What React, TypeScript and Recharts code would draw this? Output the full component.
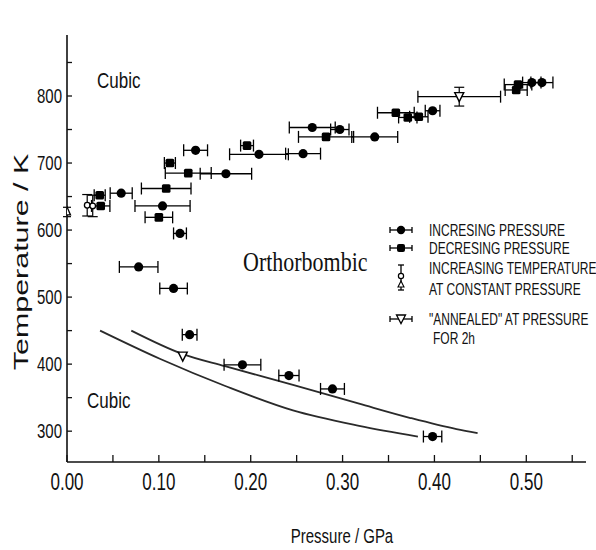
import React from 'react';
import { ComposedChart, XAxis, YAxis, Scatter, Line, ErrorBar, Customized } from 'recharts';

// Increasing pressure (filled circles), p in GPa, t in K, xe = pressure error
const increasingPressure = [
  { p: 0.059, t: 655, xe: 0.012 },
  { p: 0.104, t: 636, xe: 0.03 },
  { p: 0.123, t: 595, xe: 0.007 },
  { p: 0.078, t: 545, xe: 0.021 },
  { p: 0.116, t: 513, xe: 0.015 },
  { p: 0.1335, t: 444, xe: 0.008 },
  { p: 0.191, t: 399, xe: 0.02 },
  { p: 0.2416, t: 383, xe: 0.011 },
  { p: 0.289, t: 363, xe: 0.013 },
  { p: 0.398, t: 292, xe: 0.01 },
  { p: 0.14, t: 719, xe: 0.013 },
  { p: 0.173, t: 684, xe: 0.028 },
  { p: 0.209, t: 713, xe: 0.032 },
  { p: 0.257, t: 714, xe: 0.019 },
  { p: 0.267, t: 753, xe: 0.025 },
  { p: 0.297, t: 750, xe: 0.01 },
  { p: 0.335, t: 739, xe: 0.025 },
  { p: 0.398, t: 778, xe: 0.008 },
  { p: 0.506, t: 820, xe: 0.01 },
  { p: 0.517, t: 820, xe: 0.012 },
];

// Decreasing pressure (filled squares)
const decreasingPressure = [
  { p: 0.0356, t: 652, xe: 0.006 },
  { p: 0.0367, t: 636, xe: 0.01 },
  { p: 0.1, t: 619, xe: 0.015 },
  { p: 0.108, t: 662, xe: 0.027 },
  { p: 0.112, t: 700, xe: 0.006 },
  { p: 0.132, t: 685, xe: 0.025 },
  { p: 0.196, t: 726, xe: 0.007 },
  { p: 0.282, t: 739, xe: 0.03 },
  { p: 0.358, t: 775, xe: 0.02 },
  { p: 0.371, t: 768, xe: 0.01 },
  { p: 0.383, t: 769, xe: 0.01 },
  { p: 0.491, t: 817, xe: 0.015 },
  { p: 0.489, t: 809, xe: 0.012 },
];

// Increasing temperature at constant pressure (open circles, vertical bars)
const increasingTemperature = [
  { p: 0.022, t: 637, ye: 16 },
  { p: 0.028, t: 636, ye: 16 },
];
const axisTriangle = [{ p: 0.0, t: 627, ye: 7 }];

// "Annealed" at pressure for 2h (open down-triangles)
const annealed = [{ p: 0.126, t: 412 }];
const annealedHigh = [{ p: 0.427, t: 799, xe: 0.045, ye: 14 }];

// Phase boundary curves
const upperBoundary = [
  { p: 0.07, t: 450 },
  { p: 0.126, t: 415 },
  { p: 0.172, t: 397 },
  { p: 0.246, t: 369 },
  { p: 0.318, t: 341 },
  { p: 0.373, t: 320 },
  { p: 0.424, t: 303 },
  { p: 0.447, t: 297 },
];
const lowerBoundary = [
  { p: 0.036, t: 450 },
  { p: 0.101, t: 408 },
  { p: 0.173, t: 367 },
  { p: 0.246, t: 331 },
  { p: 0.318, t: 308 },
  { p: 0.382, t: 292 },
];

const xTicks = [0, 0.05, 0.1, 0.15, 0.2, 0.25, 0.3, 0.35, 0.4, 0.45, 0.5, 0.55];
const xLabelTicks = [0, 0.1, 0.2, 0.3, 0.4, 0.5];
const yTicks = [300, 350, 400, 450, 500, 550, 600, 650, 700, 750, 800, 850];
const yLabelTicks = [300, 400, 500, 600, 700, 800];

const legendItems = [
  'INCRESING PRESSURE',
  'DECRESING PRESSURE',
  'INCREASING TEMPERATURE',
  'AT CONSTANT PRESSURE',
  '"ANNEALED" AT PRESSURE',
  'FOR 2h',
];

const SANS = '"Liberation Sans", Arial, Helvetica, sans-serif';
const SERIF = '"Liberation Serif", "Times New Roman", serif';
const INK = '#111';

const XTick = (props: any) => {
  const { x, y, payload } = props;
  const v = payload.value;
  const labeled = xLabelTicks.some((l) => Math.abs(l - v) < 1e-9);
  return (
    <g>
      <line x1={x} y1={y} x2={x} y2={y - 7} stroke={INK} strokeWidth={1.3} />
      {labeled && (
        <text
          transform={`translate(${x},${y + 19}) scale(1,1.4)`}
          textAnchor="middle"
          dominantBaseline="central"
          fontSize={17}
          fontFamily={SANS}
          fill={INK}
        >
          {v.toFixed(2)}
        </text>
      )}
    </g>
  );
};

const YTick = (props: any) => {
  const { x, y, payload } = props;
  const v = payload.value;
  const labeled = yLabelTicks.includes(v);
  return (
    <g>
      <line x1={x} y1={y} x2={x + 5} y2={y} stroke={INK} strokeWidth={1.3} />
      {labeled && (
        <text
          transform={`translate(${x - 5},${y}) scale(1,1.38)`}
          textAnchor="end"
          dominantBaseline="central"
          fontSize={15}
          fontFamily={SANS}
          fill={INK}
        >
          {v}
        </text>
      )}
    </g>
  );
};

const FilledDot = (props: any) => {
  const { cx, cy } = props;
  if (cx == null || cy == null) return null;
  return <circle cx={cx} cy={cy} r={4.6} fill="#000" />;
};
const FilledSquare = (props: any) => {
  const { cx, cy } = props;
  if (cx == null || cy == null) return null;
  return <rect x={cx - 4.3} y={cy - 4.3} width={8.6} height={8.6} rx={1.5} fill="#000" />;
};
const OpenDot = (props: any) => {
  const { cx, cy } = props;
  if (cx == null || cy == null) return null;
  return <circle cx={cx} cy={cy} r={2.8} fill="#fff" stroke="#000" strokeWidth={1.3} />;
};
const OpenTriUp = (props: any) => {
  const { cx, cy } = props;
  if (cx == null || cy == null) return null;
  return (
    <polygon
      points={`${cx},${cy - 5} ${cx - 3.5},${cy + 3} ${cx + 3.5},${cy + 3}`}
      fill="#fff"
      stroke="#000"
      strokeWidth={1.3}
    />
  );
};
const OpenTriDown = (props: any) => {
  const { cx, cy } = props;
  if (cx == null || cy == null) return null;
  return (
    <polygon
      points={`${cx - 4.5},${cy - 4} ${cx + 4.5},${cy - 4} ${cx},${cy + 5}`}
      fill="#fff"
      stroke="#000"
      strokeWidth={1.4}
    />
  );
};

const Annotations = () => {
  const lx = 429;
  const rows = [230, 248, 268, 289, 319, 338];
  const sx = 401;
  return (
    <g>
      {/* Region labels */}
      <text transform="translate(97,80) scale(1,1.3)" dominantBaseline="central" fontSize={17} fontFamily={SANS} fill={INK}>
        Cubic
      </text>
      <text transform="translate(87,400) scale(1,1.3)" dominantBaseline="central" fontSize={17} fontFamily={SANS} fill={INK}>
        Cubic
      </text>
      <text transform="translate(243,262) scale(1,1.2)" dominantBaseline="central" fontSize={22} fontFamily={SERIF} fill={INK}>
        Orthorbombic
      </text>
      {/* Axis titles */}
      <text
        transform="translate(21,262) rotate(-90) scale(1.45,1)"
        textAnchor="middle"
        dominantBaseline="central"
        fontSize={21}
        fontFamily={SANS}
        fill={INK}
      >
        Temperature / K
      </text>
      <text transform="translate(342,536) scale(1,1.3)" textAnchor="middle" dominantBaseline="central" fontSize={15} fontFamily={SANS} fill={INK}>
        Pressure / GPa
      </text>
      {/* Legend symbols */}
      <g stroke="#000" strokeWidth={1.3}>
        <line x1={390} y1={rows[0]} x2={412} y2={rows[0]} />
        <line x1={390} y1={rows[0] - 3} x2={390} y2={rows[0] + 3} />
        <line x1={412} y1={rows[0] - 3} x2={412} y2={rows[0] + 3} />
        <line x1={390} y1={rows[1]} x2={412} y2={rows[1]} />
        <line x1={390} y1={rows[1] - 3} x2={390} y2={rows[1] + 3} />
        <line x1={412} y1={rows[1] - 3} x2={412} y2={rows[1] + 3} />
        <line x1={sx} y1={265} x2={sx} y2={290} />
        <line x1={sx - 3} y1={265} x2={sx + 3} y2={265} />
        <line x1={sx - 3} y1={290} x2={sx + 3} y2={290} />
        <line x1={390} y1={rows[4]} x2={412} y2={rows[4]} />
        <line x1={390} y1={rows[4] - 3} x2={390} y2={rows[4] + 3} />
        <line x1={412} y1={rows[4] - 3} x2={412} y2={rows[4] + 3} />
      </g>
      <circle cx={sx} cy={rows[0]} r={4.2} fill="#000" />
      <rect x={sx - 4} y={rows[1] - 4} width={8} height={8} rx={2} fill="#000" />
      <circle cx={sx} cy={276} r={2.6} fill="#fff" stroke="#000" strokeWidth={1.2} />
      <polygon points={`${sx},${281} ${sx - 3},${287} ${sx + 3},${287}`} fill="#fff" stroke="#000" strokeWidth={1.1} />
      <polygon
        points={`${sx - 4.5},${rows[4] - 4} ${sx + 4.5},${rows[4] - 4} ${sx},${rows[4] + 4.5}`}
        fill="#fff"
        stroke="#000"
        strokeWidth={1.3}
      />
      {legendItems.map((label, i) => (
        <text
          key={label}
          transform={`translate(${i === 5 ? lx + 4 : lx},${rows[i]}) scale(1,1.35)`}
          dominantBaseline="central"
          fontSize={12}
          fontFamily={SANS}
          fill={INK}
        >
          {label}
        </text>
      ))}
    </g>
  );
};

export default function App() {
  return (
    <div style={{ position: 'absolute', left: 0, top: 0, width: 596, height: 550, background: '#fff' }}>
      <ComposedChart width={596} height={550} margin={{ top: 35, right: 10, left: 0, bottom: 0 }}>
        <XAxis
          type="number"
          dataKey="p"
          domain={[0, 0.565]}
          ticks={xTicks}
          interval={0}
          tickSize={0}
          tickMargin={0}
          tickLine={false}
          tick={<XTick />}
          height={88}
          axisLine={{ stroke: INK, strokeWidth: 1.6 }}
          allowDataOverflow
        />
        <YAxis
          type="number"
          dataKey="t"
          domain={[254, 891]}
          ticks={yTicks}
          interval={0}
          tickSize={0}
          tickMargin={0}
          tickLine={false}
          tick={<YTick />}
          width={67}
          axisLine={{ stroke: INK, strokeWidth: 1.6 }}
          allowDataOverflow
        />
        <Line data={upperBoundary} dataKey="t" type="monotone" stroke="#2a2a2a" strokeWidth={1.8} dot={false} isAnimationActive={false} />
        <Line data={lowerBoundary} dataKey="t" type="monotone" stroke="#2a2a2a" strokeWidth={1.8} dot={false} isAnimationActive={false} />
        <Scatter data={increasingPressure} shape={<FilledDot />} isAnimationActive={false}>
          <ErrorBar dataKey="xe" direction="x" width={6} stroke="#000" strokeWidth={1.3} />
        </Scatter>
        <Scatter data={decreasingPressure} shape={<FilledSquare />} isAnimationActive={false}>
          <ErrorBar dataKey="xe" direction="x" width={6} stroke="#000" strokeWidth={1.3} />
        </Scatter>
        <Scatter data={increasingTemperature} shape={<OpenDot />} isAnimationActive={false}>
          <ErrorBar dataKey="ye" direction="y" width={5} stroke="#000" strokeWidth={1.2} />
        </Scatter>
        <Scatter data={axisTriangle} shape={<OpenTriUp />} isAnimationActive={false}>
          <ErrorBar dataKey="ye" direction="y" width={4} stroke="#000" strokeWidth={1.2} />
        </Scatter>
        <Scatter data={annealed} shape={<OpenTriDown />} isAnimationActive={false} />
        <Scatter data={annealedHigh} shape={<OpenTriDown />} isAnimationActive={false}>
          <ErrorBar dataKey="xe" direction="x" width={6} stroke="#000" strokeWidth={1.3} />
          <ErrorBar dataKey="ye" direction="y" width={5} stroke="#000" strokeWidth={1.2} />
        </Scatter>
        <Customized component={Annotations} />
      </ComposedChart>
    </div>
  );
}
